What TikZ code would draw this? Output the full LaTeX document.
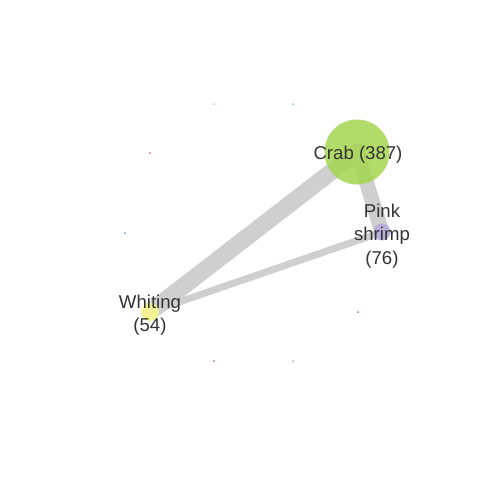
\documentclass[tikz,border=0pt]{standalone}
\usepackage{fontspec}
\setmainfont{Liberation Sans}
\begin{document}
\begin{tikzpicture}[x=1pt,y=-1pt,
  edge/.style={draw=black!19,line cap=round},
  vert/.style={circle,inner sep=0pt,opacity=0.85},
  dot/.style={circle,inner sep=0pt,minimum size=2pt},
  lbl/.style={text=black!80,font=\fontsize{18.6}{23.2}\selectfont,align=center}]
\useasboundingbox (0,0) rectangle (480,480);
\fill[white] (0,0) rectangle (480,480);
\coordinate (crab) at (357,152);
\coordinate (shrimp) at (382,232);
\coordinate (whiting) at (150,312);
\draw[edge,line width=17pt] (crab) -- (whiting);
\draw[edge,line width=15pt] (crab) -- (shrimp);
\draw[edge,line width=7pt] (shrimp) -- (whiting);
\node[vert,fill={rgb,255:red,165;green,215;blue,80},minimum size=65pt] (crabc) at (crab) {};
\node[vert,fill={rgb,255:red,180;green,170;blue,220},minimum size=17pt] (shrimpc) at (shrimp) {};
\node[vert,fill={rgb,255:red,250;green,250;blue,140},minimum size=18pt] (whitingc) at (whiting) {};
\node[lbl] (crabl) at (358,155) {Crab (387)};
\node[lbl] (shrimpl) at (382,236) {Pink\\shrimp\\(76)};
\node[lbl] (whitingl) at (150,315) {Whiting\\(54)};
\node[dot,fill={rgb,255:red,250;green,180;blue,210}] (d1) at (214,104) {};
\node[dot,fill={rgb,255:red,120;green,210;blue,170}] (d2) at (293,104) {};
\node[dot,fill={rgb,255:red,230;green,90;blue,110}] (d3) at (150,153) {};
\node[dot,fill={rgb,255:red,100;green,150;blue,220}] (d4) at (125,233) {};
\node[dot,fill={rgb,255:red,190;green,100;blue,200}] (d5) at (214,361) {};
\node[dot,fill={rgb,255:red,190;green,160;blue,230}] (d6) at (293,361) {};
\node[dot,fill={rgb,255:red,210;green,80;blue,200}] (d7) at (358,312) {};
\end{tikzpicture}
\end{document}
